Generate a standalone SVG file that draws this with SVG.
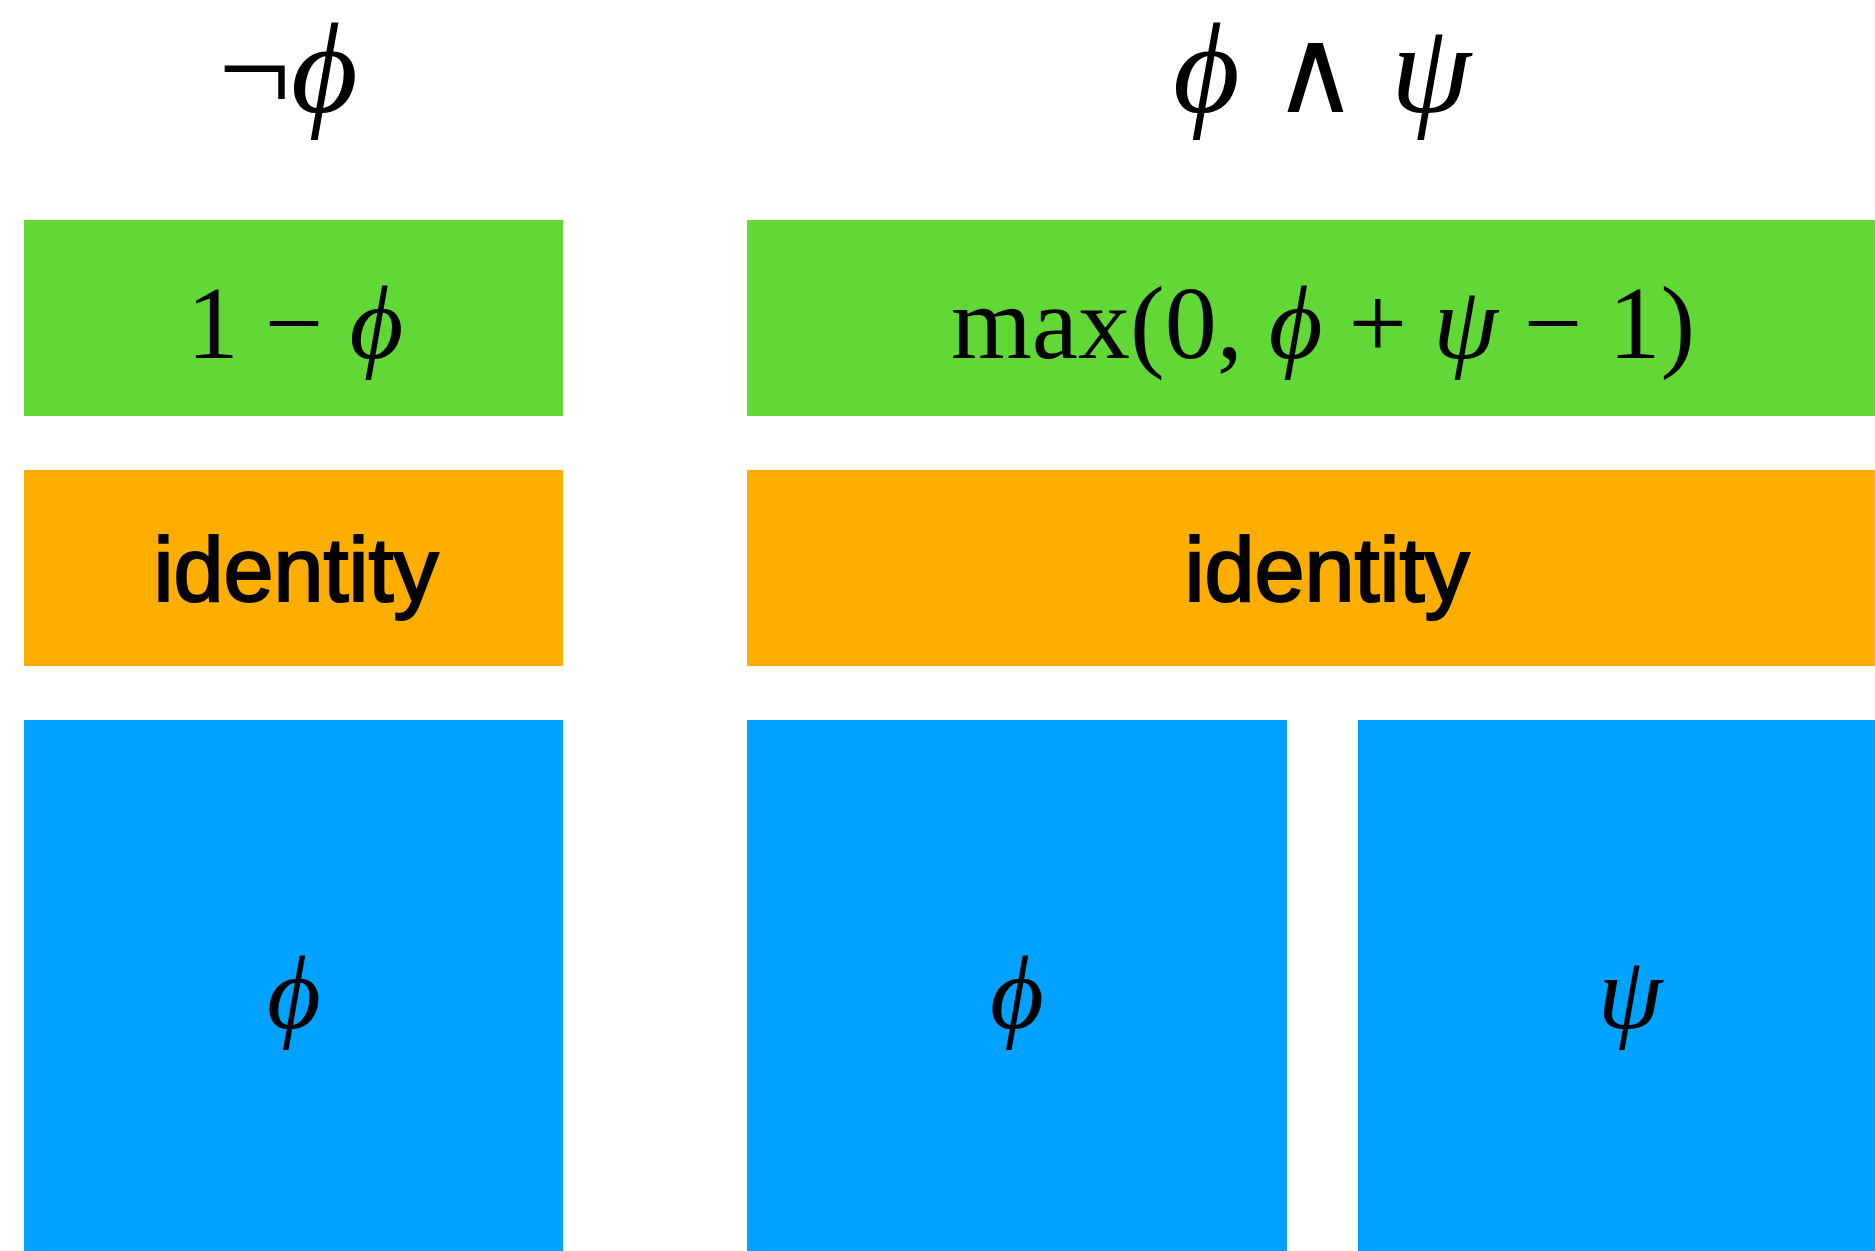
<svg xmlns="http://www.w3.org/2000/svg" width="1875" height="1251" viewBox="0 0 1875 1251">
<style>
.green{fill:#61D836}
.orange{fill:#FEAE00}
.blue{fill:#00A2FF}
.math{font-family:"Liberation Serif","Times New Roman",serif;fill:#000;text-anchor:middle}
.it{font-style:italic}
.op{font-family:"DejaVu Serif",serif}
.sans{font-family:"Liberation Sans",Arial,sans-serif;fill:#000;stroke:#000;stroke-width:2.2;text-anchor:middle;font-size:90px}
</style>
<rect width="1875" height="1251" fill="#fff"/>
<g id="connectors"/>
<g id="header-not">
<text class="math" x="288" y="112" font-size="129">¬<tspan class="it">ϕ</tspan></text>
</g>
<g id="header-and">
<text class="math" x="1322" y="112" font-size="129"><tspan class="it">ϕ</tspan> <tspan class="op" font-size="118">∧</tspan> <tspan class="it">ψ</tspan></text>
</g>
<g id="not-op">
<rect class="green" x="24" y="220" width="539" height="196"/>
<text class="math" x="295" y="358" font-size="104">1 − <tspan class="it">ϕ</tspan></text>
</g>
<g id="and-op">
<rect class="green" x="747" y="220" width="1150" height="196"/>
<text class="math" x="1323" y="358" font-size="104">max(0, <tspan class="it">ϕ</tspan> + <tspan class="it">ψ</tspan> − 1)</text>
</g>
<g id="not-identity">
<rect class="orange" x="24" y="470" width="539" height="196"/>
<text class="sans" x="296" y="601">identity</text>
</g>
<g id="and-identity">
<rect class="orange" x="747" y="470" width="1150" height="196"/>
<text class="sans" x="1327" y="601">identity</text>
</g>
<g id="not-phi">
<rect class="blue" x="24" y="720" width="539" height="540"/>
<text class="math it" x="294" y="1028" font-size="104">ϕ</text>
</g>
<g id="and-phi">
<rect class="blue" x="747" y="720" width="540" height="540"/>
<text class="math it" x="1017" y="1028" font-size="104">ϕ</text>
</g>
<g id="and-psi">
<rect class="blue" x="1358" y="720" width="540" height="540"/>
<text class="math it" x="1630" y="1028" font-size="104">ψ</text>
</g>
</svg>
